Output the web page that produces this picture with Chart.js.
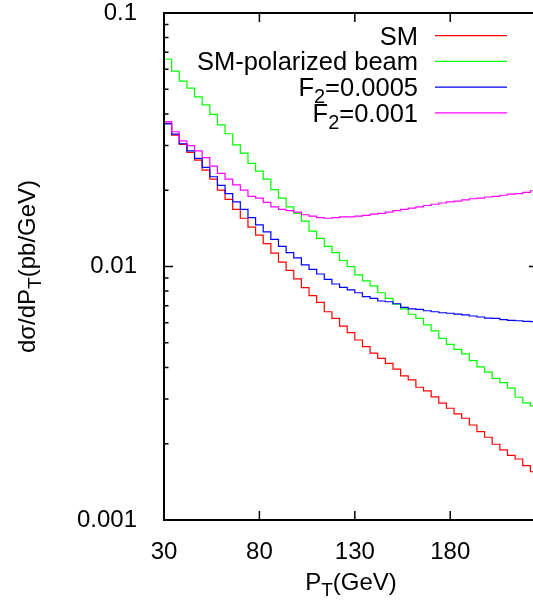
<!DOCTYPE html>
<html>
<head>
<meta charset="utf-8">
<script src="https://cdn.jsdelivr.net/npm/chart.js@4/dist/chart.umd.min.js"></script>
<style>
  html, body { margin: 0; padding: 0; background: #fff; overflow: hidden; }
  #wrap { width: 545px; height: 606px; }
</style>
</head>
<body>
<div id="wrap"><canvas id="ptChart"></canvas></div>
<script>
// P_T histogram: 4 GeV bins starting at 30 GeV
const binLow = 30;
const binWidth = 4;

const smValues = [
  0.0367, 0.0330, 0.0303, 0.0282, 0.0263, 0.0240, 0.0221, 0.0200, 0.0184, 0.0168,
  0.0155, 0.0143, 0.0133, 0.0123, 0.0113, 0.0104, 0.00966, 0.00894, 0.00825, 0.00767,
  0.00722, 0.00663, 0.00624, 0.00582, 0.00548, 0.00513, 0.00483, 0.00455, 0.00434, 0.00415,
  0.00394, 0.00370, 0.00357, 0.00334, 0.00323, 0.00306, 0.00289, 0.00276, 0.00262, 0.00252,
  0.00237, 0.00223, 0.00212, 0.00199, 0.00189, 0.00180, 0.00174, 0.00164, 0.00155
];
const smPolValues = [
  0.0657, 0.0590, 0.0539, 0.0505, 0.0467, 0.0434, 0.0398, 0.0362, 0.0334, 0.0302,
  0.0280, 0.0255, 0.0238, 0.0221, 0.0201, 0.0186, 0.0172, 0.0162, 0.0151, 0.0138,
  0.0129, 0.0120, 0.01135, 0.01056, 0.00998, 0.00926, 0.00877, 0.00838, 0.00788, 0.00749,
  0.00711, 0.00680, 0.00648, 0.00624, 0.00588, 0.00557, 0.00521, 0.00493, 0.00471, 0.00452,
  0.00425, 0.00402, 0.00383, 0.00362, 0.00348, 0.00331, 0.00305, 0.00290, 0.00282
];
const f2HalfValues = [
  0.0365, 0.0333, 0.0305, 0.0286, 0.0267, 0.0246, 0.0226, 0.0209, 0.0194, 0.0180,
  0.0168, 0.0156, 0.0146, 0.0137, 0.0128, 0.0120, 0.01135, 0.01082, 0.01014, 0.00975,
  0.00934, 0.00890, 0.00853, 0.00828, 0.00808, 0.00788, 0.00760, 0.00749, 0.00731, 0.00726,
  0.00713, 0.00690, 0.00680, 0.00677, 0.00669, 0.00663, 0.00657, 0.00654, 0.00649, 0.00644,
  0.00638, 0.00632, 0.00626, 0.00624, 0.00617, 0.00613, 0.00611, 0.00608, 0.00606
];
const f2OneValues = [
  0.0373, 0.0340, 0.0313, 0.0300, 0.0286, 0.0269, 0.0249, 0.0233, 0.0221, 0.0210,
  0.0200, 0.0189, 0.0186, 0.0179, 0.0172, 0.0168, 0.0166, 0.0164, 0.0160, 0.0158,
  0.0156, 0.0155, 0.0156, 0.0157, 0.0157, 0.0158, 0.0159, 0.0161, 0.0162, 0.0164,
  0.0166, 0.0168, 0.0170, 0.0172, 0.0174, 0.0176, 0.0178, 0.0180, 0.0181, 0.0183,
  0.0185, 0.0186, 0.0188, 0.0189, 0.0191, 0.0193, 0.0194, 0.0196, 0.0199
];

const seriesLabels = ['SM', 'SM-polarized beam', 'F_2=0.0005', 'F_2=0.001'];
const seriesValues = [smValues, smPolValues, f2HalfValues, f2OneValues];
const seriesColors = ['#ff0000', '#00ff00', '#0000ff', '#ff00ff'];

const xTicks = [30, 80, 130, 180];
const yTicks = [0.001, 0.01, 0.1];
const xRange = [30, 226];
const yRange = [0.001, 0.1];

const FONT = '"Liberation Sans", Arial, sans-serif';

// step histogram: one point per bin low edge plus the closing edge
function histPoints(values) {
  const pts = values.map((v, i) => ({ x: binLow + i * binWidth, y: v }));
  pts.push({ x: binLow + values.length * binWidth, y: values[values.length - 1] });
  return pts;
}

// text with gnuplot style subscripts, e.g. "F_2" or "P_{T}"
function richParts(text) {
  const parts = [];
  const re = /_(\{[^}]*\}|.)/g;
  let last = 0, m;
  while ((m = re.exec(text))) {
    if (m.index > last) parts.push({ t: text.slice(last, m.index), sub: false });
    let s = m[1];
    if (s[0] === '{') s = s.slice(1, -1);
    parts.push({ t: s, sub: true });
    last = re.lastIndex;
  }
  if (last < text.length) parts.push({ t: text.slice(last), sub: false });
  return parts;
}

function drawRich(ctx, text, x, y, size, align) {
  const parts = richParts(text);
  const subSize = Math.round(size * 0.8);
  let w = 0;
  parts.forEach(p => {
    ctx.font = (p.sub ? subSize : size) + 'px ' + FONT;
    p.w = ctx.measureText(p.t).width;
    w += p.w;
  });
  let cx = align === 'right' ? x - w : align === 'center' ? x - w / 2 : x;
  ctx.textAlign = 'left';
  ctx.textBaseline = 'alphabetic';
  ctx.fillStyle = '#000';
  parts.forEach(p => {
    ctx.font = (p.sub ? subSize : size) + 'px ' + FONT;
    ctx.fillText(p.t, cx, p.sub ? y + size * 0.27 : y);
    cx += p.w;
  });
}

const framePlugin = {
  id: 'frame',
  afterDatasetsDraw(chart) {
    const { ctx, chartArea: a, scales: { x, y } } = chart;
    ctx.save();
    ctx.strokeStyle = '#000';

    // inward ticks on all four sides
    ctx.lineWidth = 1.5;
    ctx.beginPath();
    xTicks.forEach(v => {
      const px = x.getPixelForValue(v);
      ctx.moveTo(px, a.bottom); ctx.lineTo(px, a.bottom - 9);
      ctx.moveTo(px, a.top); ctx.lineTo(px, a.top + 9);
    });
    for (let dec = yRange[0]; dec < yRange[1] * 1.001; dec *= 10) {
      for (let k = 1; k <= 9; k++) {
        const v = dec * k;
        if (v > yRange[1] * 1.001) break;
        const len = k === 1 ? 9 : 4.5;
        const py = y.getPixelForValue(v);
        ctx.moveTo(a.left, py); ctx.lineTo(a.left + len, py);
        ctx.moveTo(a.right, py); ctx.lineTo(a.right - len, py);
      }
    }
    ctx.stroke();

    ctx.lineWidth = 2;
    ctx.strokeRect(a.left, a.top, a.right - a.left, a.bottom - a.top);

    // key, gnuplot style: right aligned text with a line sample
    chart.data.datasets.forEach((ds, i) => {
      const rowY = 35.7 + i * 25.7;
      drawRich(ctx, seriesLabels[i], 418, rowY + 9, 25.5, 'right');
      ctx.strokeStyle = ds.borderColor;
      ctx.lineWidth = 1.2;
      ctx.beginPath();
      ctx.moveTo(435, rowY); ctx.lineTo(507, rowY);
      ctx.stroke();
    });

    // axis titles
    const midX = (a.left + a.right) / 2;
    const midY = (a.top + a.bottom) / 2;
    drawRich(ctx, 'P_T(GeV)', midX, 590, 24, 'center');
    ctx.translate(35, midY);
    ctx.rotate(-Math.PI / 2);
    drawRich(ctx, 'd\u03c3/dP_T(pb/GeV)', 0, 0, 24, 'center');
    ctx.restore();
  }
};

const datasets = seriesValues.map((vals, i) => ({
  label: seriesLabels[i],
  data: histPoints(vals),
  borderColor: seriesColors[i],
  backgroundColor: seriesColors[i],
  borderWidth: 1.2,
  pointRadius: 0,
  stepped: 'before',
  fill: false,
  order: seriesValues.length - i
}));

const config = {
  type: 'line',
  data: { datasets: datasets },
  options: {
    responsive: true,
    maintainAspectRatio: false,
    animation: false,
    layout: { padding: { top: 13, right: 7, left: 0, bottom: 0 } },
    plugins: {
      legend: { display: false },
      tooltip: { enabled: false }
    },
    scales: {
      x: {
        type: 'linear',
        min: xRange[0],
        max: xRange[1],
        afterBuildTicks: s => { s.ticks = xTicks.map(v => ({ value: v })); },
        afterFit: s => { s.height = 86; s.paddingLeft = 0; s.paddingRight = 0; },
        grid: { display: false },
        border: { display: false },
        ticks: {
          autoSkip: false,
          maxRotation: 0,
          padding: 10,
          color: '#000',
          font: { family: FONT, size: 24 },
          callback: v => String(v)
        }
      },
      y: {
        type: 'logarithmic',
        min: yRange[0],
        max: yRange[1],
        afterBuildTicks: s => { s.ticks = yTicks.map(v => ({ value: v })); },
        afterFit: s => { s.width = 164; s.paddingTop = 0; s.paddingBottom = 0; },
        grid: { display: false },
        border: { display: false },
        ticks: {
          autoSkip: false,
          padding: 19,
          color: '#000',
          font: { family: FONT, size: 24 },
          callback: v => String(v)
        }
      }
    }
  },
  plugins: [framePlugin]
};

const ctx = document.getElementById('ptChart').getContext('2d');
new Chart(ctx, config);
</script>
</body>
</html>
